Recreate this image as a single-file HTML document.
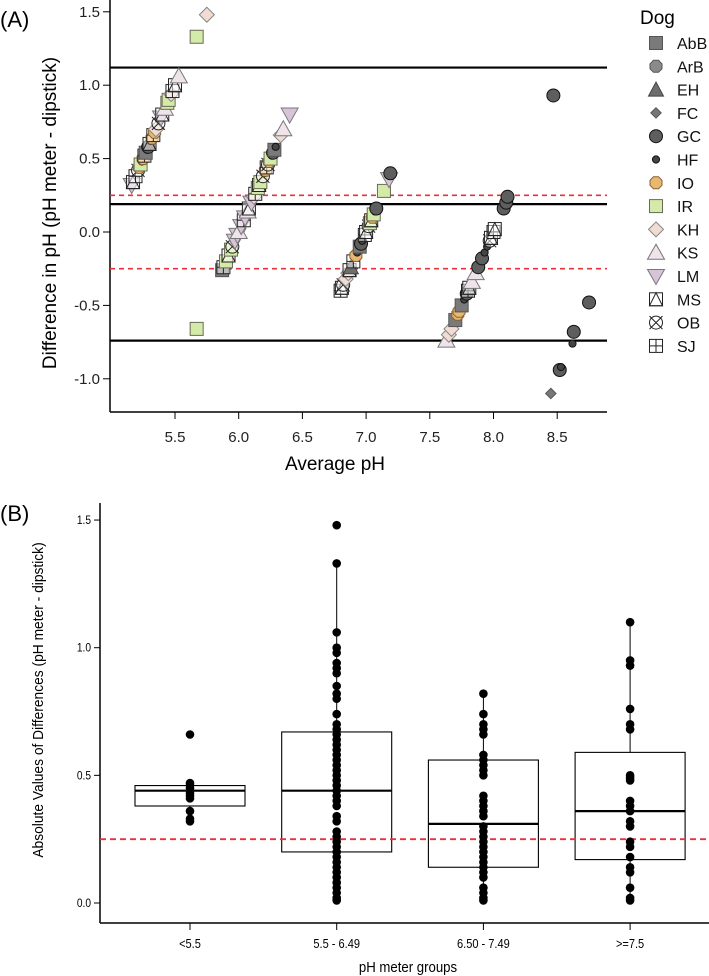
<!DOCTYPE html>
<html><head><meta charset="utf-8"><style>
html,body{margin:0;padding:0;background:#fff;width:709px;height:976px;overflow:hidden}
svg{display:block;font-family:"Liberation Sans",sans-serif}
</style></head><body>
<svg id="chart" width="709" height="976" viewBox="0 0 709 976" xmlns="http://www.w3.org/2000/svg">
<g id="pa"></g>
<g id="pb"></g>
</svg>
<script>
// ---------- Panel A data ----------
const dogs = ["AbB","ArB","EH","FC","GC","HF","IO","IR","KH","KS","LM","MS","OB","SJ"];
const aTicksX = [5.5,6.0,6.5,7.0,7.5,8.0,8.5];
const aTicksY = [1.5,1.0,0.5,0.0,-0.5,-1.0];
const aTickLabelsY = ["1.5","1.0","0.5","0.0","-0.5","-1.0"];
const agreeLines = [1.12,0.19,-0.74];
const tolLines = [0.25,-0.25];
const avgPH = [5.16,5.17,5.19,5.21,5.22,5.23,5.24,5.25,5.26,5.27,5.28,5.29,5.30,5.31,5.32,5.33,5.34,5.35,5.37,5.39,5.40,5.42,5.44,5.45,5.47,5.48,5.50,5.53,
5.87,5.88,5.90,5.92,5.94,5.95,5.97,5.99,6.00,6.02,6.04,6.05,6.07,6.08,6.10,6.12,6.13,6.15,6.16,6.17,6.19,6.20,6.21,6.22,6.23,6.24,6.25,6.26,6.27,6.28,6.29,6.33,6.35,6.40,
6.80,6.81,6.82,6.84,6.86,6.87,6.88,6.90,6.92,6.93,6.95,6.96,6.97,6.99,7.00,7.02,7.03,7.04,7.05,7.06,7.07,7.08,7.14,7.18,7.19,
7.63,7.65,7.67,7.70,7.72,7.73,7.75,7.77,7.79,7.80,7.81,7.83,7.86,7.88,7.91,7.93,7.95,7.97,7.98,8.00,8.01,8.08,8.10,8.11,
5.75,5.67,5.67,8.47,8.75,8.63,8.62,8.52,8.53,8.45];
const diffPH = [0.32,0.34,0.38,0.42,0.44,0.46,0.48,0.50,0.52,0.54,0.56,0.58,0.60,0.62,0.64,0.66,0.68,0.70,0.74,0.78,0.80,0.84,0.88,0.90,0.94,0.96,1.00,1.06,
-0.26,-0.24,-0.20,-0.16,-0.12,-0.10,-0.06,-0.02,0.00,0.04,0.08,0.10,0.14,0.16,0.20,0.24,0.26,0.30,0.32,0.34,0.38,0.40,0.42,0.44,0.46,0.48,0.50,0.52,0.54,0.56,0.58,0.66,0.70,0.80,
-0.40,-0.38,-0.36,-0.32,-0.28,-0.26,-0.24,-0.20,-0.16,-0.14,-0.10,-0.08,-0.06,-0.02,0.00,0.04,0.06,0.08,0.10,0.12,0.14,0.16,0.28,0.36,0.40,
-0.74,-0.70,-0.66,-0.60,-0.56,-0.54,-0.50,-0.46,-0.42,-0.40,-0.38,-0.34,-0.28,-0.24,-0.18,-0.14,-0.10,-0.06,-0.04,0.00,0.02,0.16,0.20,0.24,
1.48,1.33,-0.66,0.93,-0.48,-0.68,-0.76,-0.94,-0.92,-1.10];
const dogOf = ["LM","MS","SJ","OB","IO","IR","HF","IO","SJ","AbB","HF","GC","MS","HF","IO","SJ","IO","KH","OB","LM","MS","KS","IR","IR","KH","SJ","MS","KS",
"AbB","SJ","IR","MS","IR","OB","LM","LM","KS","LM","SJ","LM","KS","MS","LM","KH","SJ","IR","MS","IR","OB","HF","IO","SJ","OB","IO","IR","HF","GC","AbB","HF","KH","KS","LM",
"SJ","MS","OB","KH","KH","MS","EH","SJ","IO","HF","AbB","GC","HF","SJ","MS","OB","IR","MS","IO","IR","HF","GC","IR","LM","GC",
"KS","KH","KH","AbB","IO","IO","AbB","HF","GC","SJ","MS","KS","KS","GC","GC","HF","HF","OB","MS","SJ","MS","GC","GC","GC",
"KH","IR","IR","GC","GC","GC","HF","GC","HF","FC"];

// ---------- Panel B data ----------
const groups = ["<5.5","5.5 - 6.49","6.50 - 7.49",">=7.5"];
const bTicksY = [0.0,0.5,1.0,1.5];
const bTickLabels = ["0.0","0.5","1.0","1.5"];
const boxQ1 = [0.38,0.20,0.14,0.17];
const boxMed = [0.44,0.44,0.31,0.36];
const boxQ3 = [0.46,0.67,0.56,0.59];
const whiskLo = [0.32,0.01,0.01,0.01];
const whiskHi = [0.47,1.33,0.82,1.10];
const g1 = [0.66,0.47,0.46,0.45,0.44,0.43,0.42,0.41,0.36,0.33,0.32];
const g2 = [1.48,1.33,1.06,1.00,0.98,0.94,0.92,0.90,0.85,0.82,0.80,0.74,0.70,0.68,0.66,0.64,0.62,0.60,0.58,0.56,0.54,0.52,0.50,0.48,0.46,0.44,0.42,0.40,0.38,0.34,0.32,0.28,0.26,0.24,0.22,0.20,0.18,0.16,0.14,0.12,0.10,0.08,0.06,0.04,0.02,0.01];
const g3 = [0.82,0.74,0.70,0.68,0.66,0.58,0.56,0.54,0.52,0.50,0.42,0.40,0.38,0.36,0.34,0.30,0.28,0.26,0.24,0.22,0.20,0.18,0.16,0.14,0.12,0.10,0.06,0.04,0.02,0.01];
const g4 = [1.10,0.95,0.93,0.76,0.70,0.68,0.50,0.49,0.48,0.40,0.38,0.36,0.32,0.30,0.24,0.22,0.18,0.14,0.12,0.06,0.02,0.01];
const groupPts = [g1,g2,g3,g4];
const tolB = 0.25;

const NS="http://www.w3.org/2000/svg";
function mk(parent,tag,attrs,txt){const e=document.createElementNS(NS,tag);for(const k in attrs)e.setAttribute(k,attrs[k]);if(txt!==undefined)e.textContent=txt;parent.appendChild(e);return e;}

// ===== Panel A =====
const A=document.getElementById('pa');
const ax=v=>175+(v-5.5)*127.4;
const ay=v=>232-v*146.8;
const AL=110,AR=607,AB=412,AT=0;
let e;
e=mk(A,'text',{x:0,y:27,'font-size':22},'(A)');

e=mk(A,'line',{x1:AL,y1:AT,x2:AL,y2:AB,stroke:'#000','stroke-width':1.5});

e=mk(A,'line',{x1:AL,y1:AB,x2:AR,y2:AB,stroke:'#000','stroke-width':1.5});

aTicksY.forEach((v,i)=>{mk(A,'line',{x1:AL-7,y1:ay(v),x2:AL,y2:ay(v),stroke:'#000'});
 e=mk(A,'text',{x:AL-10,y:ay(v)+5,'font-size':15,'text-anchor':'end',fill:'#222'},aTickLabelsY[i]);
 });
aTicksX.forEach(v=>{mk(A,'line',{x1:ax(v),y1:AB,x2:ax(v),y2:AB+7,stroke:'#000'});
 e=mk(A,'text',{x:ax(v),y:AB+30,'font-size':15,'text-anchor':'middle',fill:'#222'},v.toFixed(1));
 });
e=mk(A,'text',{x:335,y:470,'font-size':19,'text-anchor':'middle'},'Average pH');

e=mk(A,'text',{x:0,y:0,'font-size':19,'text-anchor':'middle',transform:'translate(56,213) rotate(-90)'},'Difference in pH (pH meter - dipstick)');

agreeLines.forEach(v=>{e=mk(A,'line',{x1:AL,y1:ay(v),x2:AR,y2:ay(v),stroke:'#000','stroke-width':2.2});
 });
tolLines.forEach(v=>{e=mk(A,'line',{x1:AL,y1:ay(v),x2:AR,y2:ay(v),stroke:'#e8323c','stroke-width':1.6,'stroke-dasharray':'5,4'});
 });

function symbol(g,dog,x,y,s){
 const r=s/2;
 switch(dog){
 case 'AbB': return mk(g,'rect',{x:x-r,y:y-r,width:s,height:s,fill:'#7a7a7a',stroke:'#555'});
 case 'ArB': return mk(g,'polygon',{points:oct(x,y,r),fill:'#8a8a8a',stroke:'#555'});
 case 'EH': return mk(g,'polygon',{points:`${x},${y-r-1} ${x-r-1},${y+r} ${x+r+1},${y+r}`,fill:'#6e6e6e',stroke:'#444'});
 case 'FC': return mk(g,'polygon',{points:`${x},${y-r*0.8} ${x+r*0.8},${y} ${x},${y+r*0.8} ${x-r*0.8},${y}`,fill:'#777',stroke:'#555'});
 case 'GC': return mk(g,'circle',{cx:x,cy:y,r:r,fill:'#5e5e5e',stroke:'#111'});
 case 'HF': return mk(g,'circle',{cx:x,cy:y,r:r*0.55,fill:'#444',stroke:'#111'});
 case 'IO': return mk(g,'polygon',{points:oct(x,y,r),fill:'#e8b870',stroke:'#8a6030'});
 case 'IR': return mk(g,'rect',{x:x-r,y:y-r,width:s,height:s,fill:'#d4eaa8',stroke:'#6a6a55'});
 case 'KH': return mk(g,'polygon',{points:`${x},${y-r-1} ${x+r+1},${y} ${x},${y+r+1} ${x-r-1},${y}`,fill:'#f0dcd2',stroke:'#888'});
 case 'KS': return mk(g,'polygon',{points:`${x},${y-r-2} ${x-r-2},${y+r} ${x+r+2},${y+r}`,fill:'#efe4ea',stroke:'#777'});
 case 'LM': return mk(g,'polygon',{points:`${x-r-2},${y-r} ${x+r+2},${y-r} ${x},${y+r+2}`,fill:'#d8c4d8',stroke:'#777'});
 case 'MS': { const gg=mk(g,'g',{}); mk(gg,'rect',{x:x-r,y:y-r,width:s,height:s,fill:'#fff','fill-opacity':0.5,stroke:'#222'}); mk(gg,'polygon',{points:`${x},${y-r} ${x-r},${y+r} ${x+r},${y+r}`,fill:'none',stroke:'#222'}); return gg;}
 case 'OB': { const gg=mk(g,'g',{}); mk(gg,'circle',{cx:x,cy:y,r:r,fill:'#fff','fill-opacity':0.5,stroke:'#222'}); mk(gg,'path',{d:`M${x-r} ${y-r}L${x+r} ${y+r}M${x+r} ${y-r}L${x-r} ${y+r}`,stroke:'#222'}); return gg;}
 case 'SJ': { const gg=mk(g,'g',{}); mk(gg,'rect',{x:x-r,y:y-r,width:s,height:s,fill:'#fff','fill-opacity':0.5,stroke:'#222'}); mk(gg,'path',{d:`M${x} ${y-r}V${y+r}M${x-r} ${y}H${x+r}`,stroke:'#222'}); return gg;}
 }
}
function oct(x,y,r){let p=[];for(let i=0;i<8;i++){const a=Math.PI/8+i*Math.PI/4;p.push((x+r*Math.cos(a)).toFixed(1)+','+(y+r*Math.sin(a)).toFixed(1));}return p.join(' ');}

const pts=mk(A,'g',{});

avgPH.forEach((v,i)=>{
 const m=symbol(pts,dogOf[i],ax(v),ay(diffPH[i]),13);
 
 
});
// legend
const L=mk(A,'g',{});

e=mk(L,'text',{x:640,y:24,'font-size':19},'Dog');

dogs.forEach((d,i)=>{
 const y=43+i*23.3;
 const it=mk(L,'g',{});
 
 symbol(it,d,656,y,13);
 mk(it,'text',{x:677,y:y+6,'font-size':16,fill:'#111'},d);
});

// ===== Panel B =====
const B=document.getElementById('pb');
const bL=100,bB=923,bT=503,bR=709;
const by=v=>903-v*255.3;
const bx=i=>190+i*146.7;
e=mk(B,'text',{x:0,y:521,'font-size':22},'(B)');

e=mk(B,'line',{x1:bL,y1:bT,x2:bL,y2:bB,stroke:'#000','stroke-width':1.5});

e=mk(B,'line',{x1:bL,y1:bB,x2:bR,y2:bB,stroke:'#000','stroke-width':1.5});

bTicksY.forEach((v,i)=>{mk(B,'line',{x1:bL-6,y1:by(v),x2:bL,y2:by(v),stroke:'#000'});
 e=mk(B,'text',{x:bL-9,y:by(v)+4,'font-size':12,'text-anchor':'end',transform:`translate(${bL-9},0) scale(0.85,1) translate(${-(bL-9)},0)`},bTickLabels[i]);
 });
groups.forEach((g,i)=>{mk(B,'line',{x1:bx(i),y1:bB,x2:bx(i),y2:bB+7,stroke:'#000'});
 e=mk(B,'text',{x:bx(i),y:bB+25,'font-size':13,'text-anchor':'middle',transform:`translate(${bx(i)},0) scale(0.85,1) translate(${-bx(i)},0)`},g);
 });
e=mk(B,'text',{x:408,y:972,'font-size':15,'text-anchor':'middle',transform:'translate(408,0) scale(0.88,1) translate(-408,0)'},'pH meter groups');

e=mk(B,'text',{x:0,y:0,'font-size':15,'text-anchor':'middle',transform:'translate(43,700) rotate(-90) scale(0.92,1)'},'Absolute Values of Differences (pH meter - dipstick)');

const hw=55;
groups.forEach((g,i)=>{
 const bg=mk(B,'g',{});
 
 mk(bg,'line',{x1:bx(i),y1:by(whiskHi[i]),x2:bx(i),y2:by(boxQ3[i]),stroke:'#000'});
 mk(bg,'line',{x1:bx(i),y1:by(boxQ1[i]),x2:bx(i),y2:by(whiskLo[i]),stroke:'#000'});
 mk(bg,'rect',{x:bx(i)-hw,y:by(boxQ3[i]),width:2*hw,height:by(boxQ1[i])-by(boxQ3[i]),fill:'#fff',stroke:'#000','stroke-width':1.1});
 mk(bg,'line',{x1:bx(i)-hw,y1:by(boxMed[i]),x2:bx(i)+hw,y2:by(boxMed[i]),stroke:'#000','stroke-width':2.2});
});
e=mk(B,'line',{x1:bL,y1:by(tolB),x2:bR,y2:by(tolB),stroke:'#e8323c','stroke-width':1.8,'stroke-dasharray':'6,4'});

groupPts.forEach((arr,i)=>{
 arr.forEach(v=>{
  const c=mk(B,'circle',{cx:bx(i),cy:by(v),r:4.3,fill:'#000'});
  
  
 });
});
</script>
</body></html>
